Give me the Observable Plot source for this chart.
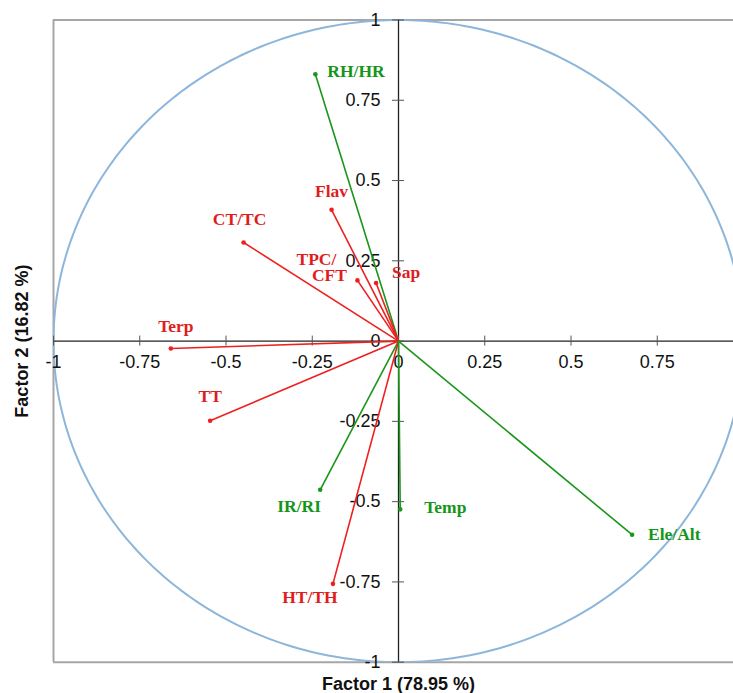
<!DOCTYPE html>
<html>
<head>
<meta charset="utf-8">
<script src="https://cdn.jsdelivr.net/npm/d3@7"></script>
<script src="https://cdn.jsdelivr.net/npm/@observablehq/plot@0.6"></script>
<style>
  html, body { margin: 0; padding: 0; background: #fff; overflow: hidden; }
</style>
</head>
<body>
<div id="chart"></div>
<script>
// ---- data ----
const variables = ["RH/HR", "Flav", "CT/TC", "TPC/CFT", "Sap", "Terp", "TT", "IR/RI", "HT/TH", "Temp", "Ele/Alt"];
const factor1   = [-0.241, -0.194, -0.449, -0.119, -0.065, -0.660, -0.546, -0.227, -0.190, 0.005, 0.677];
const factor2   = [ 0.831,  0.409,  0.307,  0.189,  0.181, -0.023, -0.248, -0.463, -0.756, -0.524, -0.603];
const groups    = ["env", "chem", "chem", "chem", "chem", "chem", "chem", "env", "chem", "env", "env"];
const xTicks = [-1, -0.75, -0.5, -0.25, 0, 0.25, 0.5, 0.75];
const yTicks = [-1, -0.75, -0.5, -0.25, 0, 0.25, 0.5, 0.75, 1];
const xTitle = "Factor 1 (78.95 %)";
const yTitle = "Factor 2 (16.82 %)";

const rows = variables.map((v, i) => ({name: v, x: factor1[i], y: factor2[i], group: groups[i]}));

// label placement (pixels relative to the point)
const placement = {
  "RH/HR":   [["RH/HR", 12, -3, "start"]],
  "Flav":    [["Flav", 0, -18, "middle"]],
  "CT/TC":   [["CT/TC", -4, -23, "middle"]],
  "TPC/CFT": [["TPC/", -41, -21, "middle"], ["CFT", -28, -5, "middle"]],
  "Sap":     [["Sap", 16, -11, "start"]],
  "Terp":    [["Terp", 5, -22, "middle"]],
  "TT":      [["TT", 0, -24, "middle"]],
  "IR/RI":   [["IR/RI", -21, 17, "middle"]],
  "HT/TH":   [["HT/TH", -23, 14, "middle"]],
  "Temp":    [["Temp", 24, -2, "start"]],
  "Ele/Alt": [["Ele/Alt", 16, 0, "start"]]
};
const labelRows = rows.flatMap(r => placement[r.name].map(([t, dx, dy, a]) => ({...r, t, dx, dy, a})));

const colors = {chem: "#ee1f1f", env: "#1a961a"};
const textColors = {chem: "#e01c1c", env: "#14961a"};

const circle = d3.range(0, 361).map(a => ({x: Math.cos(a * Math.PI / 180), y: Math.sin(a * Math.PI / 180)}));

const sansFont = "Liberation Sans, Arial, sans-serif";
const serifFont = "Liberation Serif, Times New Roman, serif";

const textMarks = labelRows.map(d => Plot.text([d], {
  x: "x", y: "y", text: "t", dx: d.dx, dy: d.dy, textAnchor: d.a,
  fill: textColors[d.group], fontFamily: serifFont, fontWeight: "bold", fontSize: 17.5
}));

const chart = Plot.plot({
  width: 733,
  height: 693,
  marginLeft: 53,
  marginRight: 0,
  marginTop: 19.5,
  marginBottom: 31.3,
  x: {domain: [-1, 0.971], axis: null},
  y: {domain: [-1, 1], axis: null},
  style: {background: "#fff", overflow: "visible"},
  marks: [
    // frame (top, left, bottom)
    Plot.ruleY([1, -1], {stroke: "#a6a6a6", strokeWidth: 2}),
    Plot.ruleX([-1], {stroke: "#a6a6a6", strokeWidth: 2}),
    // unit circle
    Plot.line(circle, {x: "x", y: "y", stroke: "#8db6db", strokeWidth: 2, clip: "frame"}),
    // axes through the origin
    Plot.ruleY([0], {stroke: "#222", strokeWidth: 1.3}),
    Plot.ruleX([0], {stroke: "#222", strokeWidth: 1.3}),
    Plot.ruleX(xTicks, {x: d => d, y1: -0.0156, y2: 0.0156, stroke: "#555", strokeWidth: 1}),
    Plot.ruleY(yTicks, {y: d => d, x1: -0.0174, x2: 0.0174, stroke: "#555", strokeWidth: 1}),
    Plot.text(xTicks, {x: d => d, y: 0, dy: 21, text: d => String(d), fill: "#111", fontFamily: sansFont, fontSize: 18}),
    Plot.text(yTicks, {x: 0, y: d => d, dx: -18, textAnchor: "end", text: d => String(d), fill: "#111", fontFamily: sansFont, fontSize: 18}),
    // vectors
    Plot.link(rows, {x1: () => 0, y1: () => 0, x2: "x", y2: "y", stroke: d => colors[d.group], strokeWidth: 1.6}),
    Plot.dot(rows, {x: "x", y: "y", r: 2.3, fill: d => colors[d.group], stroke: "none"}),
    ...textMarks,
    // axis titles
    Plot.text([xTitle], {x: [0], frameAnchor: "bottom", lineAnchor: "middle", textAnchor: "middle", dy: 22, text: d => d, fontFamily: sansFont, fontWeight: "bold", fontSize: 18, fill: "#111"}),
    Plot.text([yTitle], {y: [0], frameAnchor: "left", lineAnchor: "middle", textAnchor: "middle", dx: -31, rotate: -90, text: d => d, fontFamily: sansFont, fontWeight: "bold", fontSize: 18, fill: "#111"})
  ]
});
document.getElementById("chart").appendChild(chart);
</script>
</body>
</html>
